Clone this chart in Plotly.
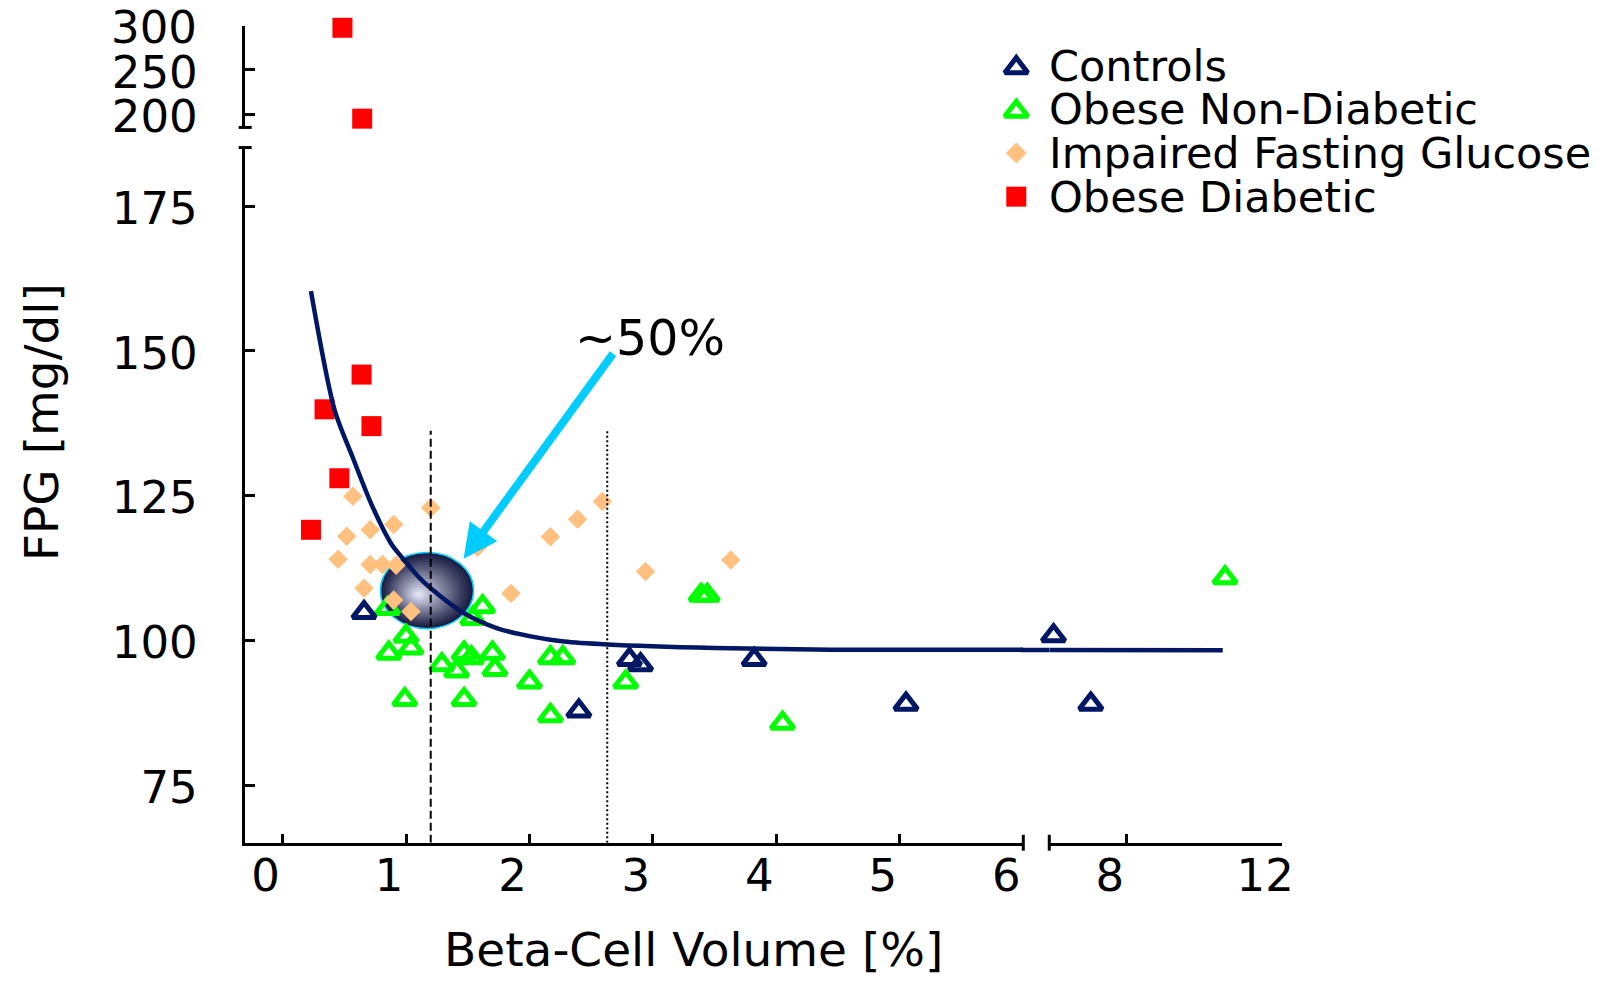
import plotly.graph_objects as go

W, H = 1603, 983

# ---------------- data ----------------
controls_x = [0.66, 2.40, 2.81, 2.90, 3.82, 5.05]
controls_y = [104.8, 87.8, 96.7, 95.8, 96.7, 89.0]
controls_x_break = [6.11, 7.07]
controls_y_break = [100.8, 89.0]

obese_nd_x = [0.85, 1.62, 1.54, 1.00, 1.04, 0.86, 1.29, 1.41, 1.47, 1.53, 1.70, 1.72,
              2.00, 2.17, 2.27, 0.99, 1.47, 2.17, 2.78, 3.39, 3.44, 4.05]
obese_nd_y = [105.5, 105.8, 103.8, 100.7, 98.7, 97.8, 95.8, 94.7, 97.8, 97.0, 97.8, 95.0,
              92.8, 97.0, 97.0, 89.8, 89.8, 87.0, 92.8, 107.8, 107.8, 85.7]
obese_nd_x_break = [10.53]
obese_nd_y_break = [110.8]

ifg_x = [0.57, 1.20, 0.90, 0.71, 0.52, 0.45, 0.71, 0.81, 0.92, 0.66, 0.90, 1.04,
         1.58, 1.85, 2.17, 2.39, 2.59, 2.94, 3.63]
ifg_y = [124.9, 122.9, 120.0, 119.1, 118.0, 114.0, 113.1, 113.1, 113.0, 109.0, 107.0, 105.0,
         116.1, 108.1, 117.9, 120.9, 124.0, 111.9, 113.9]

diab_x = [0.64, 0.34, 0.72, 0.46, 0.23]
diab_y = [145.9, 139.9, 137.0, 128.0, 119.1]
diab_x_high = [0.485, 0.645]
diab_y_high = [297.5, 195.0]

fit_x = [0.23, 0.42, 0.57, 0.72, 0.88, 0.96, 1.10, 1.20, 1.47, 1.74, 2.01, 2.28, 2.63, 3.5, 4.44, 6.0]
fit_y = [160.3, 139.9, 131.5, 123.5, 116.7, 114.5, 111.0, 109.0, 104.7, 102.1, 100.7, 99.8,
         99.3, 98.7, 98.4, 98.4]
fit_x_break = [6.0, 10.47]
fit_y_break = [98.35, 98.3]

x_ticks_main = [0, 1, 2, 3, 4, 5, 6]
x_ticks_break = [8, 12]
y_ticks_main = [75, 100, 125, 150, 175]
y_ticks_high = [200, 250, 300]

threshold_dashed = 1.2
threshold_dotted = 2.63
threshold_top = 136.2

legend_names = ["Controls", "Obese Non-Diabetic", "Impaired Fasting Glucose", "Obese Diabetic"]

# ---------------- layout geometry (pixels in the target picture) ----------------
PX_LEFT, PX_SEG1_END, PX_SEG2_START, PX_RIGHT = 243, 1022, 1048, 1281
PY_BOTTOM, PY_MAIN_TOP, PY_HIGH_BOTTOM, PY_HIGH_TOP = 848, 147, 126.7, 24
X_RANGE_MAIN = [-0.307, 6.0]
X_RANGE_BREAK = [6.0, 12.0]
Y_RANGE_MAIN = [65.07, 185.1]
Y_RANGE_HIGH = [185.1, 300.0]

# small correction for the rendering scale observed in the screenshot
RK, RC = 1 / 0.993, 1.8


def S(p):
    return p * RK + RC


def fx(px):
    return S(px) / W


def fy(py):
    return 1 - S(py) / H


NAVY = '#001763'
GREEN = '#00FF00'
ORANGE = '#FFC080'
RED = '#FF0000'
CYAN = '#00CCFF'
FONT = 'DejaVu Sans'

TRI = 20
TRI_LW = 5
DIA = 15
SQ = 20

fig = go.Figure()


def tri_marker(color):
    return dict(symbol='triangle-up-open', size=TRI, color=color, opacity=1,
                line=dict(width=TRI_LW, color=color))


# Obese non-diabetic
fig.add_trace(go.Scatter(x=obese_nd_x, y=obese_nd_y, mode='markers', marker=tri_marker(GREEN),
                         xaxis='x', yaxis='y', showlegend=False))
fig.add_trace(go.Scatter(x=obese_nd_x_break, y=obese_nd_y_break, mode='markers', marker=tri_marker(GREEN),
                         xaxis='x2', yaxis='y', showlegend=False, cliponaxis=False))
# Impaired fasting glucose
fig.add_trace(go.Scatter(x=ifg_x, y=ifg_y, mode='markers',
                         marker=dict(symbol='diamond', size=DIA, color=ORANGE, opacity=1, line=dict(width=0)),
                         xaxis='x', yaxis='y', showlegend=False))
# Controls
fig.add_trace(go.Scatter(x=controls_x, y=controls_y, mode='markers', marker=tri_marker(NAVY),
                         xaxis='x', yaxis='y', showlegend=False))
fig.add_trace(go.Scatter(x=controls_x_break, y=controls_y_break, mode='markers', marker=tri_marker(NAVY),
                         xaxis='x2', yaxis='y', showlegend=False, cliponaxis=False))
# Obese diabetic
sq = dict(symbol='square', size=SQ, color=RED, opacity=1, line=dict(width=0))
fig.add_trace(go.Scatter(x=diab_x, y=diab_y, mode='markers', marker=sq, xaxis='x', yaxis='y', showlegend=False))
fig.add_trace(go.Scatter(x=diab_x_high, y=diab_y_high, mode='markers', marker=sq, xaxis='x', yaxis='y2',
                         showlegend=False, cliponaxis=False))
# Fitted curve
fig.add_trace(go.Scatter(x=fit_x, y=fit_y, mode='lines',
                         line=dict(color=NAVY, width=4.5, shape='spline', smoothing=0.8),
                         xaxis='x', yaxis='y', showlegend=False))
fig.add_trace(go.Scatter(x=fit_x_break, y=fit_y_break, mode='lines', line=dict(color=NAVY, width=4.5),
                         xaxis='x2', yaxis='y', showlegend=False))

# Custom legend keys (on a hidden pixel-space overlay)
LEG_X, LEG_TEXT_X, LEG_ROW0, LEG_DY = 1015, 1046, 64.5, 44
leg_symbols = ['triangle-up-open', 'triangle-up-open', 'diamond', 'square']
leg_colors = [NAVY, GREEN, ORANGE, RED]
leg_sizes = [TRI, TRI, DIA + 1, SQ]
leg_lw = [TRI_LW, TRI_LW, 0, 0]
leg_rows = [S(LEG_ROW0 + i * LEG_DY + (2 if i < 2 else 0)) for i in range(len(legend_names))]
fig.add_trace(go.Scatter(x=[S(LEG_X)] * len(legend_names), y=leg_rows, mode='markers',
                         marker=dict(symbol=leg_symbols, size=leg_sizes, color=leg_colors, opacity=1,
                                     line=dict(width=leg_lw, color=leg_colors)),
                         xaxis='x3', yaxis='y3', showlegend=False, hoverinfo='skip'))

shapes = []
# shaded sphere: stacked ellipses approximating a radial gradient
SPH_CX, SPH_CY, SPH_HX, SPH_HY = 1.17, 108.6, 0.377, 6.57
HL_DX, HL_DY = -0.18, -0.10
dark = (26, 28, 66)
light = (222, 224, 242)
N = 18
for i in range(N):
    t = i / (N - 1)
    s = 1 - 0.93 * t
    cx = SPH_CX + SPH_HX * HL_DX * t
    cy = SPH_CY + SPH_HY * HL_DY * t
    f = t ** 1.1
    col = 'rgb(%d,%d,%d)' % tuple(round(dark[k] + (light[k] - dark[k]) * f) for k in range(3))
    shapes.append(dict(type='circle', xref='x', yref='y', layer='below',
                       x0=cx - SPH_HX * s, x1=cx + SPH_HX * s, y0=cy - SPH_HY * s, y1=cy + SPH_HY * s,
                       fillcolor=col, line=dict(width=1.5 if i == 0 else 0, color=CYAN)))

# threshold lines
shapes.append(dict(type='line', xref='x', yref='y', layer='above', x0=threshold_dashed, x1=threshold_dashed,
                   y0=Y_RANGE_MAIN[0], y1=threshold_top, line=dict(color='black', width=2, dash='8px,4px')))
shapes.append(dict(type='line', xref='x', yref='y', layer='above', x0=threshold_dotted, x1=threshold_dotted,
                   y0=Y_RANGE_MAIN[0], y1=threshold_top, line=dict(color='black', width=2, dash='2px,2.5px')))

# axis break caps
for py in (PY_HIGH_BOTTOM, PY_MAIN_TOP):
    shapes.append(dict(type='line', xref='paper', yref='paper', x0=fx(PX_LEFT - 6), x1=fx(PX_LEFT + 7),
                       y0=fy(py), y1=fy(py), line=dict(color='black', width=3)))
for px in (PX_SEG1_END, PX_SEG2_START):
    shapes.append(dict(type='line', xref='paper', yref='paper', x0=fx(px), x1=fx(px),
                       y0=fy(PY_BOTTOM - 8), y1=fy(PY_BOTTOM + 8), line=dict(color='black', width=3)))

annotations = []
# curve continuing across the axis break
annotations.append(dict(xref='x2', yref='y', x=fit_x_break[0], y=fit_y_break[0], axref='pixel', ayref='pixel',
                        ax=-(S(PX_SEG2_START) - S(PX_SEG1_END)) - 3, ay=0, text='', showarrow=True, arrowhead=0,
                        arrowwidth=4.5, arrowcolor=NAVY, standoff=0, startstandoff=0, borderpad=0))
# cyan arrow
annotations.append(dict(xref='x', yref='y', x=1.466, y=114.1, axref='x', ayref='y', ax=2.68, ay=149.6,
                        text='', showarrow=True, arrowhead=2, arrowsize=0.85, arrowwidth=8, arrowcolor=CYAN,
                        standoff=0, startstandoff=0, borderpad=0))
annotations.append(dict(xref='paper', yref='paper', x=fx(649), y=fy(340), text='~50%', showarrow=False,
                        xanchor='center', yanchor='middle', font=dict(family=FONT, size=49, color='black')))
# top tick label of the upper axis segment (kept inside the page)
annotations.append(dict(xref='paper', yref='paper', x=fx(196), y=1, text=str(y_ticks_high[-1]), showarrow=False,
                        xanchor='right', yanchor='top', borderpad=0,
                        font=dict(family=FONT, size=45, color='black')))
# axis titles
annotations.append(dict(xref='paper', yref='paper', x=fx(39), y=fy(424), text='FPG [mg/dl]', textangle=-90,
                        showarrow=False, xanchor='center', yanchor='middle',
                        font=dict(family=FONT, size=47, color='black')))
annotations.append(dict(xref='paper', yref='paper', x=fx(692), y=fy(956), text='Beta-Cell Volume [%]',
                        showarrow=False, xanchor='center', yanchor='middle', borderpad=0,
                        font=dict(family=FONT, size=47, color='black')))
# legend texts
for i, name in enumerate(legend_names):
    annotations.append(dict(xref='paper', yref='paper', x=fx(LEG_TEXT_X), y=fy(LEG_ROW0 + i * LEG_DY), text=name,
                            showarrow=False, xanchor='left', yanchor='middle',
                            font=dict(family=FONT, size=43, color='black')))

tickfont = dict(family=FONT, size=45, color='black')
common_x = dict(showline=True, linewidth=3, linecolor='black', ticks='inside', ticklen=9, tickwidth=3,
                tickcolor='black', showgrid=False, zeroline=False, tickfont=tickfont, ticklabelshift=-17,
                ticklabelstandoff=-9, anchor='y')
common_y = dict(showline=True, linewidth=3, linecolor='black', ticks='inside', ticklen=10, tickwidth=3,
                tickcolor='black', showgrid=False, zeroline=False, tickfont=tickfont, ticklabelshift=2,
                ticklabelstandoff=35, anchor='x')

fig.update_layout(
    width=W, height=H,
    margin=dict(l=0, r=0, t=0, b=0),
    paper_bgcolor='white', plot_bgcolor='rgba(0,0,0,0)',
    showlegend=False,
    xaxis=dict(domain=[fx(PX_LEFT), fx(PX_SEG1_END)], range=X_RANGE_MAIN, tickvals=x_ticks_main,
               ticktext=[str(v) for v in x_ticks_main], **common_x),
    xaxis2=dict(domain=[fx(PX_SEG2_START), fx(PX_RIGHT)], range=[X_RANGE_BREAK[0], X_RANGE_BREAK[1] + 0.001],
                tickvals=x_ticks_break, ticktext=[str(v) for v in x_ticks_break], **common_x),
    yaxis=dict(domain=[fy(PY_BOTTOM), fy(PY_MAIN_TOP)], range=Y_RANGE_MAIN, tickvals=y_ticks_main,
               ticktext=[str(v) for v in y_ticks_main], **common_y),
    yaxis2=dict(domain=[fy(PY_HIGH_BOTTOM), fy(PY_HIGH_TOP)], range=[Y_RANGE_HIGH[0], Y_RANGE_HIGH[1] + 0.01],
                tickvals=y_ticks_high, ticktext=[str(v) for v in y_ticks_high[:-1]] + [''], **common_y),
    xaxis3=dict(domain=[0, 1], range=[0, W], visible=False, anchor='y3', fixedrange=True),
    yaxis3=dict(domain=[0, 1], range=[H, 0], visible=False, anchor='x3', fixedrange=True),
    shapes=shapes,
    annotations=annotations,
)

fig.write_html("out.html")
